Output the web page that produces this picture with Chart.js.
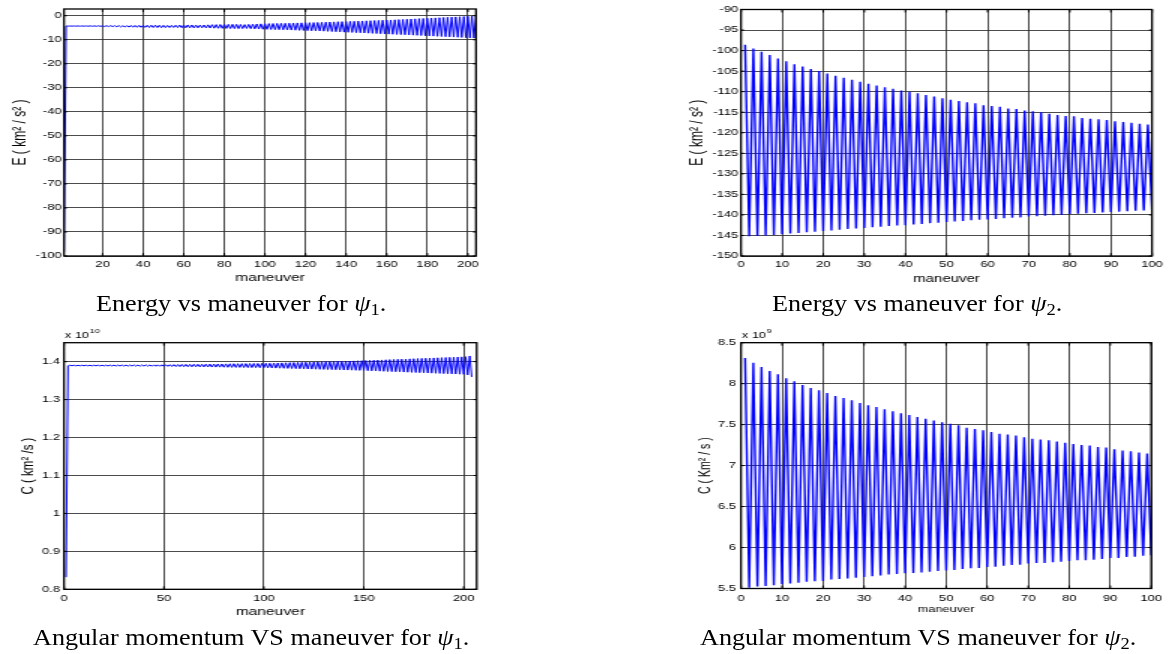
<!DOCTYPE html>
<html><head><meta charset="utf-8">
<script src="https://cdn.jsdelivr.net/npm/chart.js@4"></script>
<style>
html,body{margin:0;padding:0;background:#fff;width:1169px;height:654px;overflow:hidden;position:relative;}
.panel{position:absolute;transform-origin:0 0;transform:scaleX(1.5);}
.panel canvas{display:block;}
.cap{position:absolute;width:500px;text-align:center;font-family:'Liberation Serif','Times New Roman',serif;font-size:24px;line-height:24px;white-space:nowrap;color:#000;z-index:5;}
.cap .in{display:inline-block;transform:scaleX(1.09);}
.cap i{font-style:italic;}
.cap .sb{font-size:17px;position:relative;top:4px;}
</style></head>
<body>
<div class="panel" style="left:0;top:0;width:330px;height:296px;"><canvas id="c1"></canvas></div>
<div class="panel" style="left:680px;top:0;width:326px;height:296px;"><canvas id="c2"></canvas></div>
<div class="panel" style="left:0;top:318px;width:330px;height:312px;"><canvas id="c3"></canvas></div>
<div class="panel" style="left:680px;top:318px;width:326px;height:312px;"><canvas id="c4"></canvas></div>
<div class="cap" style="left:-9px;top:291px;"><span class="in">Energy vs maneuver for <i>ψ</i><span class="sb">1</span>.</span></div>
<div class="cap" style="left:667px;top:291px;"><span class="in">Energy vs maneuver for <i>ψ</i><span class="sb">2</span>.</span></div>
<div class="cap" style="left:1px;top:625px;"><span class="in">Angular momentum VS maneuver for <i>ψ</i><span class="sb">1</span>.</span></div>
<div class="cap" style="left:668px;top:625px;"><span class="in">Angular momentum VS maneuver for <i>ψ</i><span class="sb">2</span>.</span></div>
<script>
// ---------- data ----------
const maneuversPsi1 = Array.from({length: 204}, (_, i) => i + 1);
const maneuversPsi2 = Array.from({length: 100}, (_, i) => i + 1);

// Energy for psi1 (km^2/s^2)
const energyPsi1 = [
-98.2,
-4.28,-4.32, -4.27,-4.33, -4.27,-4.34, -4.26,-4.35, -4.25,-4.36,
-4.24,-4.37, -4.22,-4.40, -4.20,-4.43, -4.18,-4.45, -4.16,-4.48,
-4.14,-4.52, -4.12,-4.56, -4.10,-4.60, -4.12,-4.66, -4.15,-4.70,
-4.12,-4.74, -4.08,-4.78, -4.05,-4.80, -4.02,-4.82, -4.00,-4.85,
-3.98,-4.88, -3.96,-4.90, -3.95,-4.92, -3.97,-4.95, -4.00,-4.94,
-4.05,-4.90, -4.02,-4.88, -3.96,-4.93, -3.90,-4.98, -3.86,-5.02,
-3.84,-5.05, -3.85,-5.06, -3.88,-5.04, -3.92,-5.00, -3.86,-5.06,
-3.80,-5.12, -3.74,-5.18, -3.70,-5.22, -3.66,-5.26, -3.62,-5.30,
-3.60,-5.33, -3.58,-5.36, -3.60,-5.38, -3.64,-5.34, -3.70,-5.30,
-3.62,-5.38, -3.52,-5.46, -3.44,-5.54, -3.38,-5.62, -3.32,-5.68,
-3.28,-5.74, -3.24,-5.78, -3.20,-5.82, -3.18,-5.86, -3.15,-5.90,
-3.10,-5.96, -3.06,-6.02, -3.00,-6.08, -2.96,-6.14, -2.92,-6.20,
-2.88,-6.26, -2.84,-6.30, -2.80,-6.36, -2.74,-6.42, -2.68,-6.50,
-2.62,-6.58, -2.56,-6.66, -2.50,-6.74, -2.46,-6.82, -2.42,-6.90,
-2.36,-6.96, -2.30,-7.04, -2.24,-7.10, -2.18,-7.18, -2.12,-7.26,
-2.06,-7.34, -2.00,-7.42, -1.94,-7.50, -1.88,-7.58, -1.82,-7.66,
-1.76,-7.72, -1.70,-7.78, -1.62,-7.84, -1.54,-7.92, -1.46,-8.00,
-1.38,-8.08, -1.30,-8.16, -1.22,-8.24, -1.14,-8.32, -1.06,-8.40,
-0.98,-8.48, -0.90,-8.56, -0.82,-8.64, -0.74,-8.72, -0.66,-8.80,
-0.58,-8.88, -0.50,-8.96, -0.42,-9.04, -0.34,-9.12, -0.26,-9.20,
-0.18,-9.28,
-0.10
];

// Energy for psi2 (km^2/s^2)
const energyPsi2 = [
-98.6,-145.2, -99.5,-145.1, -100.3,-145.0, -101.1,-144.9, -101.9,-144.7,
-102.6,-144.5, -103.3,-144.4, -103.9,-144.2, -104.5,-144.1, -105.0,-143.9,
-105.6,-143.8, -106.1,-143.6, -106.6,-143.4, -107.1,-143.3, -107.6,-143.2,
-108.1,-143.0, -108.5,-142.9, -108.9,-142.7, -109.3,-142.6, -109.7,-142.5,
-110.0,-142.3, -110.4,-142.2, -110.8,-142.0, -111.2,-141.9, -111.6,-141.7,
-112.0,-141.6, -112.3,-141.5, -112.6,-141.3, -112.8,-141.2, -113.3,-141.1,
-113.5,-141.0, -113.7,-140.8, -114.1,-140.7, -114.2,-140.6, -114.6,-140.4,
-114.8,-140.3, -115.0,-140.2, -115.4,-140.1, -115.7,-140.0, -115.9,-139.8,
-116.0,-139.7, -116.4,-139.6, -116.6,-139.5, -116.7,-139.4, -116.9,-139.3,
-117.2,-139.2, -117.4,-139.1, -117.6,-139.0, -117.8,-138.9, -118.0,-138.8
];

// Angular momentum for psi1, in units of 1e10 km^2/s
const momentumPsi1 = [
0.832,
1.3890,1.3906, 1.3891,1.3905, 1.3890,1.3906, 1.3891,1.3906, 1.3890,1.3906,
1.3890,1.3907, 1.3889,1.3907, 1.3889,1.3907, 1.3888,1.3908, 1.3888,1.3908,
1.3887,1.3909, 1.3886,1.3910, 1.3886,1.3910, 1.3885,1.3911, 1.3885,1.3911,
1.3884,1.3912, 1.3883,1.3913, 1.3883,1.3913, 1.3882,1.3914, 1.3882,1.3914,
1.3881,1.3915, 1.3880,1.3916, 1.3880,1.3916, 1.3879,1.3917, 1.3878,1.3918,
1.3876,1.3920, 1.3874,1.3922, 1.3872,1.3924, 1.3870,1.3926, 1.3868,1.3928,
1.3867,1.3929, 1.3866,1.3930, 1.3865,1.3931, 1.3864,1.3932, 1.3862,1.3934,
1.3860,1.3936, 1.3858,1.3938, 1.3857,1.3939, 1.3856,1.3940, 1.3854,1.3942,
1.3852,1.3944, 1.3850,1.3946, 1.3849,1.3947, 1.3848,1.3948, 1.3846,1.3950,
1.3845,1.3951, 1.3844,1.3952, 1.3843,1.3953, 1.3842,1.3954, 1.3840,1.3956,
1.3837,1.3959, 1.3834,1.3962, 1.3831,1.3965, 1.3828,1.3968, 1.3825,1.3971,
1.3822,1.3974, 1.3819,1.3977, 1.3816,1.3980, 1.3813,1.3983, 1.3810,1.3986,
1.3807,1.3989, 1.3804,1.3992, 1.3801,1.3995, 1.3798,1.3998, 1.3795,1.4001,
1.3793,1.4003, 1.3790,1.4006, 1.3787,1.4009, 1.3784,1.4012, 1.3781,1.4015,
1.3779,1.4017, 1.3776,1.4020, 1.3773,1.4023, 1.3770,1.4026, 1.3766,1.4030,
1.3762,1.4034, 1.3758,1.4038, 1.3754,1.4042, 1.3750,1.4046, 1.3746,1.4050,
1.3742,1.4054, 1.3738,1.4058, 1.3734,1.4062, 1.3730,1.4066, 1.3726,1.4070,
1.3722,1.4074, 1.3718,1.4078, 1.3714,1.4082, 1.3710,1.4086, 1.3706,1.4090,
1.3702,1.4094, 1.3698,1.4098, 1.3694,1.4102, 1.3690,1.4106, 1.3686,1.4110,
1.3682,1.4114, 1.3678,1.4118, 1.3674,1.4122, 1.3670,1.4126, 1.3666,1.4130,
1.3650,1.4150,
1.3598
];

// Angular momentum for psi2, in units of 1e9 km^2/s
const momentumPsi2 = [
8.313,5.508, 8.256,5.524, 8.203,5.532, 8.154,5.540, 8.114,5.553,
8.065,5.561, 8.028,5.569, 7.984,5.581, 7.947,5.589, 7.919,5.593,
7.886,5.609, 7.850,5.617, 7.825,5.621, 7.797,5.630, 7.764,5.642,
7.736,5.650, 7.715,5.658, 7.687,5.670, 7.663,5.678, 7.638,5.686,
7.618,5.690, 7.593,5.694, 7.573,5.706, 7.549,5.715, 7.528,5.719,
7.512,5.727, 7.492,5.739, 7.463,5.747, 7.447,5.751, 7.431,5.763,
7.411,5.767, 7.390,5.779, 7.378,5.787, 7.366,5.791, 7.346,5.804,
7.329,5.812, 7.317,5.812, 7.309,5.820, 7.293,5.828, 7.280,5.836,
7.264,5.844, 7.252,5.844, 7.244,5.852, 7.228,5.860, 7.220,5.872,
7.200,5.872, 7.185,5.885, 7.175,5.889, 7.160,5.901, 7.148,5.905
];

// tick labels
const xTicksPsi1E = [20, 40, 60, 80, 100, 120, 140, 160, 180, 200];
const xTicksPsi1C = [0, 50, 100, 150, 200];
const xTicksPsi2  = [0, 10, 20, 30, 40, 50, 60, 70, 80, 90, 100];
const yTicksPsi1E = [0, -10, -20, -30, -40, -50, -60, -70, -80, -90, -100];
const yTicksPsi2E = [-90, -95, -100, -105, -110, -115, -120, -125, -130, -135, -140, -145, -150];
const yTicksPsi1C = [0.8, 0.9, 1, 1.1, 1.2, 1.3, 1.4];
const yTicksPsi2C = [5.5, 6, 6.5, 7, 7.5, 8, 8.5];

// ---------- rendering ----------
Chart.defaults.font.family = "'Liberation Sans', Arial, sans-serif";
Chart.defaults.color = '#000';
const GRID = 'rgba(45,45,45,0.85)';

const boxPlugin = {
  id: 'matlabBox',
  afterDraw(chart, args, opts) {
    const {ctx, chartArea: a} = chart;
    const x = chart.scales.x, y = chart.scales.y;
    ctx.save();
    ctx.strokeStyle = '#000';
    ctx.lineWidth = 1;
    ctx.beginPath();
    x.ticks.forEach(t => {
      const px = x.getPixelForValue(t.value);
      ctx.moveTo(px, a.bottom); ctx.lineTo(px, a.bottom - 3);
      ctx.moveTo(px, a.top); ctx.lineTo(px, a.top + 3);
    });
    y.ticks.forEach(t => {
      const py = y.getPixelForValue(t.value);
      ctx.moveTo(a.left, py); ctx.lineTo(a.left + 2, py);
      ctx.moveTo(a.right, py); ctx.lineTo(a.right - 2, py);
    });
    ctx.stroke();
    ctx.lineWidth = 1.3;
    ctx.strokeRect(a.left, a.top, a.right - a.left, a.bottom - a.top);
    if (opts && opts.exponent) {
      ctx.fillStyle = '#000';
      ctx.textBaseline = 'alphabetic';
      ctx.textAlign = 'left';
      ctx.font = "8.5px 'Liberation Sans', Arial, sans-serif";
      const base = 'x 10';
      const bx = a.left + 0.6, by = a.top - 4.5;
      ctx.fillText(base, bx, by);
      const w = ctx.measureText(base).width;
      ctx.font = "6px 'Liberation Sans', Arial, sans-serif";
      ctx.fillText(opts.exponent, bx + w + 0.5, by - 5);
    }
    ctx.restore();
  }
};

function panelChart(id, o) {
  const points = o.x.map((xv, i) => ({x: xv, y: o.y[i]}));
  return new Chart(document.getElementById(id), {
    type: 'line',
    data: {datasets: [{
      data: points, borderColor: '#0000ff', borderWidth: o.lw,
      pointRadius: 0, tension: 0, fill: false, borderJoinStyle: 'bevel'
    }]},
    options: {
      responsive: true, maintainAspectRatio: false, animation: false, events: [],
      layout: {padding: o.pad},
      plugins: {legend: {display: false}, tooltip: {enabled: false}, matlabBox: {exponent: o.exponent || null}},
      scales: {
        x: {
          type: 'linear', bounds: 'data', min: o.xMin, max: o.xMax,
          afterBuildTicks: s => { s.ticks = o.xTicks.map(v => ({value: v})); },
          afterFit: s => { s.height = o.xAxisH; s.paddingLeft = 0; s.paddingRight = 0; },
          ticks: {autoSkip: false, maxRotation: 0, minRotation: 0, padding: o.xTickPad,
                  font: {size: 8.7}, color: '#000', callback: v => String(v)},
          grid: {color: GRID, lineWidth: 1, drawTicks: false},
          border: {display: false},
          title: {display: true, text: 'maneuver', color: '#000',
                  font: {size: o.xTitleSize}, padding: {top: 0, bottom: o.xTitlePad}}
        },
        y: {
          type: 'linear', bounds: 'data', min: o.yMin, max: o.yMax,
          afterBuildTicks: s => { s.ticks = o.yTicks.map(v => ({value: v})); },
          afterFit: s => { s.width = o.yAxisW; s.paddingTop = 0; s.paddingBottom = 0; },
          ticks: {autoSkip: false, padding: o.yTickPad, font: {size: 8.7}, color: '#000',
                  callback: v => String(v)},
          grid: {color: GRID, lineWidth: 1, drawTicks: false},
          border: {display: false},
          title: {display: true, text: o.yTitle, color: '#000',
                  font: {size: o.yTitleSize}, padding: {top: o.yTitlePad, bottom: 0}}
        }
      }
    },
    plugins: [boxPlugin]
  });
}

panelChart('c1', {
  x: maneuversPsi1, y: energyPsi1, lw: 1,
  xMin: 1, xMax: 204, yMin: -100, yMax: 2.8,
  xTicks: xTicksPsi1E, yTicks: yTicksPsi1E,
  pad: {left: 0, right: 12.67, top: 9, bottom: 0},
  yAxisW: 42.67, xAxisH: 40, xTickPad: 2.9, yTickPad: 1.5,
  xTitleSize: 10.5, xTitlePad: 11.7,
  yTitle: 'E ( km² / s² )', yTitleSize: 12, yTitlePad: 6.1
});

panelChart('c2', {
  x: maneuversPsi2, y: energyPsi2, lw: 1.4,
  xMin: 0, xMax: 100, yMin: -150, yMax: -90,
  xTicks: xTicksPsi2, yTicks: yTicksPsi2E,
  pad: {left: 0, right: 11.33, top: 9.5, bottom: 0},
  yAxisW: 40.67, xAxisH: 40, xTickPad: 2.9, yTickPad: 1.8,
  xTitleSize: 10, xTitlePad: 11,
  yTitle: 'E ( km² / s² )', yTitleSize: 12, yTitlePad: 4.5
});

panelChart('c3', {
  x: maneuversPsi1, y: momentumPsi1, lw: 1,
  xMin: 0, xMax: 206.5, yMin: 0.8, yMax: 1.45,
  xTicks: xTicksPsi1C, yTicks: yTicksPsi1C,
  pad: {left: 0, right: 12.2, top: 24.7, bottom: 0},
  yAxisW: 42.67, xAxisH: 40.7, xTickPad: 3.6, yTickPad: 2.7,
  xTitleSize: 10.4, xTitlePad: 11.75,
  yTitle: 'C ( km² /s )', yTitleSize: 11.5, yTitlePad: 11.8,
  exponent: '10'
});

panelChart('c4', {
  x: maneuversPsi2, y: momentumPsi2, lw: 1.4,
  xMin: 0, xMax: 100, yMin: 5.5, yMax: 8.5,
  xTicks: xTicksPsi2, yTicks: yTicksPsi2C,
  pad: {left: 0, right: 11.8, top: 24.7, bottom: 0},
  yAxisW: 40.67, xAxisH: 41.5, xTickPad: 4.4, yTickPad: 3.3,
  xTitleSize: 8.5, xTitlePad: 14.9,
  yTitle: 'C ( Km² / s )', yTitleSize: 10.5, yTitlePad: 11.0,
  exponent: '9'
});
</script>
</body></html>
